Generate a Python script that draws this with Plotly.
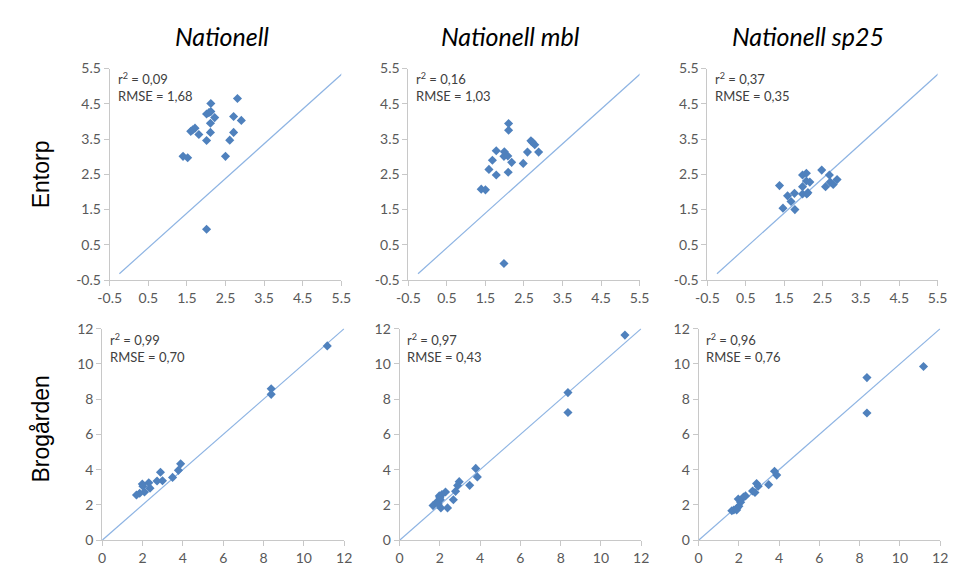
import plotly.graph_objects as go

W, H = 960, 577

# ---------------- data ----------------
col_titles = ["Nationell", "Nationell mbl", "Nationell sp25"]
row_titles = ["Entorp", "Brogården"]

# Entorp (top row)
ent_nat_x = [2.12, 2.81, 2.01, 2.07, 2.12, 2.22, 2.71, 2.91, 2.11, 1.71, 1.65, 1.60, 1.81, 2.11, 2.71, 2.01, 2.61, 1.40, 1.52, 2.50, 2.01]
ent_nat_y = [4.51, 4.65, 4.21, 4.25, 4.28, 4.11, 4.14, 4.03, 3.95, 3.81, 3.76, 3.72, 3.63, 3.69, 3.69, 3.46, 3.47, 3.01, 2.97, 3.01, 0.94]

ent_mbl_x = [2.10, 2.10, 2.68, 2.72, 2.78, 2.88, 2.59, 1.78, 1.99, 1.98, 2.08, 1.68, 2.18, 2.48, 1.59, 1.78, 2.09, 1.39, 1.50, 1.98]
ent_mbl_y = [3.94, 3.75, 3.45, 3.41, 3.34, 3.13, 3.13, 3.17, 3.14, 3.01, 3.02, 2.90, 2.84, 2.81, 2.64, 2.48, 2.56, 2.08, 2.06, -0.03]

ent_sp_x = [2.48, 1.98, 2.08, 2.68, 1.38, 1.98, 2.08, 2.17, 2.58, 2.70, 2.78, 2.88, 1.77, 1.98, 2.09, 2.12, 1.59, 1.68, 1.47, 1.78]
ent_sp_y = [2.62, 2.48, 2.53, 2.48, 2.18, 2.15, 2.31, 2.28, 2.15, 2.28, 2.21, 2.35, 1.96, 1.94, 1.94, 1.98, 1.89, 1.73, 1.54, 1.50]

# Brogården (bottom row)
bro_nat_x = [11.16, 8.38, 8.38, 3.89, 3.78, 3.49, 2.89, 2.99, 2.72, 2.31, 1.99, 2.02, 2.37, 2.10, 1.86, 1.70]
bro_nat_y = [11.02, 8.59, 8.27, 4.33, 3.96, 3.56, 3.85, 3.37, 3.36, 3.26, 3.19, 3.06, 2.95, 2.73, 2.66, 2.56]

bro_mbl_x = [11.19, 8.36, 8.36, 3.78, 3.86, 3.48, 2.96, 2.88, 2.78, 2.67, 2.28, 2.10, 1.97, 2.02, 1.86, 1.66, 2.05, 2.38, 1.92, 2.00]
bro_mbl_y = [11.63, 8.37, 7.24, 4.07, 3.59, 3.11, 3.32, 3.10, 2.77, 2.29, 2.73, 2.59, 2.51, 2.29, 2.18, 1.96, 1.83, 1.83, 2.05, 2.40]

bro_sp_x = [11.17, 8.36, 8.36, 3.77, 3.88, 3.48, 2.88, 2.96, 2.68, 2.80, 2.33, 2.23, 1.97, 2.09, 2.00, 1.91, 1.75, 1.65, 1.89]
bro_sp_y = [9.85, 9.22, 7.21, 3.91, 3.69, 3.15, 3.21, 3.06, 2.79, 2.70, 2.51, 2.45, 2.33, 2.15, 1.93, 1.82, 1.71, 1.67, 1.71]

r2_labels = [["0,09", "0,16", "0,37"], ["0,99", "0,97", "0,96"]]
rmse_labels = [["1,68", "1,03", "0,35"], ["0,70", "0,43", "0,76"]]

top_ticks = [-0.5, 0.5, 1.5, 2.5, 3.5, 4.5, 5.5]
bot_ticks = [0, 2, 4, 6, 8, 10, 12]

# 1:1 reference lines
top_line_x = [-0.25, 5.6]
top_line_y = [-0.32, 5.43]
bot_line = [0, 12]

data = [
    [(ent_nat_x, ent_nat_y), (ent_mbl_x, ent_mbl_y), (ent_sp_x, ent_sp_y)],
    [(bro_nat_x, bro_nat_y), (bro_mbl_x, bro_mbl_y), (bro_sp_x, bro_sp_y)],
]

# ---------------- layout geometry (pixels) ----------------
col_px = [[(100, 337), (405.7, 642.3), (711.7, 947.3)],
          [(92.3, 340), (396.7, 644), (702.7, 950)]]
row_px = [(61.4, 279.3), (329.3, 547.3)]

MARK = "#4F81BD"
LINE = "#8EB4E3"
AXC = "#C8C8C8"
TXT = "#595959"
FONT = "Lato, 'Open Sans', sans-serif"
RFONT = "'Liberation Sans', Arial, sans-serif"

fig = go.Figure()
layout = dict(
    width=W, height=H, margin=dict(l=0, r=0, t=0, b=0),
    paper_bgcolor="white", plot_bgcolor="white", showlegend=False,
    font=dict(family=FONT, color=TXT, size=14),
)
annotations = []

idx = 0
for r in range(2):
    for c in range(3):
        idx += 1
        xa = "xaxis" if idx == 1 else f"xaxis{idx}"
        ya = "yaxis" if idx == 1 else f"yaxis{idx}"
        xr = "x" if idx == 1 else f"x{idx}"
        yr = "y" if idx == 1 else f"y{idx}"
        x0, x1 = col_px[r][c]
        y0, y1 = row_px[r]
        dom_x = [x0 / W, x1 / W]
        dom_y = [1 - y1 / H, 1 - y0 / H]
        if r == 0:
            rng = [-0.5, 5.5]
            ticks = top_ticks
            ticktext = [f"{t:.1f}" for t in top_ticks]
            lx, ly = top_line_x, top_line_y
        else:
            rng = [0, 12]
            ticks = bot_ticks
            ticktext = [str(t) for t in bot_ticks]
            lx, ly = bot_line, bot_line
        ax_common = dict(
            range=rng, tickmode="array", tickvals=ticks, ticktext=ticktext,
            showgrid=False, zeroline=False, showline=True, linecolor=AXC,
            linewidth=1, ticks="outside", ticklen=5, tickcolor=AXC,
            tickfont=dict(family=FONT, size=14, color=TXT),
        )
        layout[xa] = dict(ax_common, domain=dom_x, anchor=yr)
        layout[ya] = dict(ax_common, domain=dom_y, anchor=xr)

        fig.add_trace(go.Scatter(x=lx, y=ly, mode="lines",
                                 line=dict(color=LINE, width=1.2),
                                 xaxis=xr, yaxis=yr, hoverinfo="skip", cliponaxis=False))
        px_, py_ = data[r][c]
        fig.add_trace(go.Scatter(x=px_, y=py_, mode="markers",
                                 marker=dict(symbol="diamond", size=7, color=MARK),
                                 xaxis=xr, yaxis=yr, cliponaxis=False))

        ty = 72 if r == 0 else 341
        annotations.append(dict(
            x=(x0 + 6) / W, y=1 - ty / H, xref="paper", yref="paper",
            xanchor="left", yanchor="middle", showarrow=False,
            text=f"r<sup>2</sup> = {r2_labels[r][c]}",
            font=dict(family=FONT, size=13, color="#404040")))
        annotations.append(dict(
            x=(x0 + 6) / W, y=1 - (ty + 18) / H, xref="paper", yref="paper",
            xanchor="left", yanchor="middle", showarrow=False,
            text=f"RMSE = {rmse_labels[r][c]}",
            font=dict(family=FONT, size=13, color="#404040")))

# column titles
for c, t in enumerate(col_titles):
    cx = [215, 510, 815][c]
    annotations.append(dict(
        x=cx / W, y=1 - 28 / H, xref="paper", yref="paper",
        xanchor="center", yanchor="middle", showarrow=False,
        text=f"<i>{t}</i>", font=dict(family=FONT, size=25, color="black")))

# row titles
for r, t in enumerate(row_titles):
    cy = [170, 433][r]
    annotations.append(dict(
        x=30 / W, y=1 - cy / H, xref="paper", yref="paper",
        xanchor="center", yanchor="middle", showarrow=False, textangle=-90,
        text=t, font=dict(family=RFONT, size=23, color="black")))

layout["annotations"] = annotations
fig.update_layout(**layout)
fig.write_html("out.html")
